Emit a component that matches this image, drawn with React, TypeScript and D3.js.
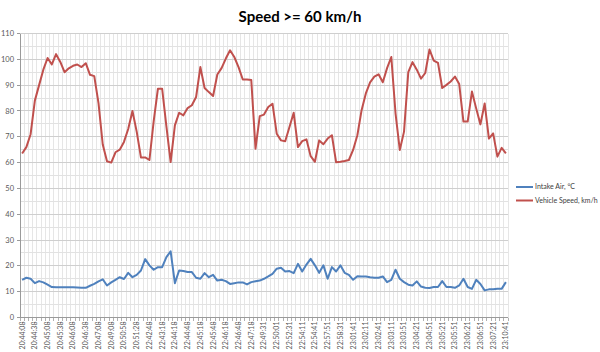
import * as d3 from "d3";

// labels shown under every third sample
const timeLabels = [
  "20:44:08", "20:44:38", "20:45:08", "20:45:38", "20:46:08", "20:46:38", "20:47:08",
  "20:49:08", "20:50:58", "20:51:28", "22:42:48", "22:43:18", "22:44:18", "22:44:48",
  "22:45:18", "22:45:48", "22:46:18", "22:46:48", "22:47:18", "22:49:31", "22:50:01",
  "22:52:31", "22:54:11", "22:54:41", "22:57:51", "22:58:31", "23:01:41", "23:02:11",
  "23:02:41", "23:03:11", "23:03:51", "23:04:21", "23:04:51", "23:05:21", "23:05:51",
  "23:06:21", "23:06:51", "23:07:21", "23:10:41",
];
const labelStep = 3;

const intakeAir = [
  14.6, 15.4, 15.0, 13.3, 14.1, 13.6, 12.7, 11.8, 11.7, 11.7,
  11.7, 11.7, 11.7, 11.6, 11.5, 11.5, 12.3, 13.0, 14.0, 14.8,
  12.4, 13.6, 14.6, 15.6, 14.9, 17.3, 15.6, 16.5, 18.2, 22.6,
  20.2, 18.5, 19.5, 19.5, 23.4, 25.6, 13.3, 18.2, 18.0, 17.6,
  17.6, 15.4, 15.0, 17.2, 15.6, 16.5, 14.3, 14.6, 14.1, 13.0,
  13.3, 13.6, 13.6, 12.8, 13.7, 14.0, 14.3, 15.0, 15.9, 16.9,
  18.9, 19.3, 17.8, 18.0, 17.2, 20.8, 17.8, 20.5, 22.7, 20.2,
  17.3, 20.2, 15.0, 19.5, 17.8, 20.2, 17.3, 16.5, 14.6, 16.0,
  15.9, 15.9, 15.6, 15.4, 15.4, 15.9, 13.7, 14.6, 18.5, 15.0,
  13.7, 12.7, 12.4, 14.0, 12.0, 11.5, 11.4, 11.8, 11.8, 14.1,
  11.8, 11.8, 11.5, 12.4, 15.0, 11.8, 11.1, 14.6, 13.0, 10.5,
  10.9, 10.9, 11.1, 11.1, 13.7,
];

const vehicleSpeed = [
  63.5, 66, 71, 84, 90, 96, 100.5, 98, 102, 99,
  95, 96.5, 97.5, 98, 97, 98.5, 94, 93.5, 83, 67,
  60.5, 60, 64, 65, 68, 73, 80, 72, 62, 62,
  61, 76, 88.6, 88.6, 74, 60.2, 74.4, 79.3, 78.3, 81.1,
  82.2, 85.4, 97, 88.9, 87.3, 85.8, 94.1, 96.6, 100.3, 103.5,
  100.9, 97, 92.2, 92.2, 92, 65.4, 78, 78.6, 81.5, 82.8,
  71.2, 68.6, 68.3, 73.8, 79.3, 66, 68.3, 69, 62.5, 60.3,
  68.6, 67.1, 69.3, 70.6, 60.1, 60.3, 60.6, 61, 64.9, 70.6,
  80.3, 86.8, 91.1, 93.3, 94.2, 91.1, 96.6, 100.9, 79, 64.9,
  72, 95, 98.9, 96, 92.5, 94.7, 103.8, 99.5, 98.6, 88.9,
  90.1, 91.4, 93.3, 90.4, 75.9, 75.9, 87.5, 81, 74.8, 82.9,
  69.3, 71.3, 62.3, 65.7, 63.6,
];

const yMax = 110;
const yTicks = d3.range(0, yMax + 1, 10);
const yGrid = d3.range(0, yMax + 1, 5);

const series = [
  { name: "Intake Air, °C", values: intakeAir, color: "#4f81bd" },
  { name: "Vehicle Speed, km/h", values: vehicleSpeed, color: "#c0504d" },
];

const width = 600;
const height = 352;
const left = 20;
const right = 508;
const top = 33.5;
const bottom = 317.5;
const font = "Lato, 'Liberation Sans', sans-serif";

export default function App() {
  const idx = d3.range(vehicleSpeed.length);
  const x = d3.scaleBand<number>().domain(idx).range([left, right]).padding(0);
  const y = d3.scaleLinear().domain([0, yMax]).range([bottom, top]);
  const cx = (i: number) => (x(i) ?? 0) + x.bandwidth() / 2;
  const line = d3
    .line<number>()
    .x((_, i) => cx(i))
    .y((d) => y(d));

  const bounds = [...idx.map((i) => x(i) ?? 0), right];

  return (
    <svg
      width={width}
      height={height}
      viewBox={`0 0 ${width} ${height}`}
      style={{ position: "absolute", left: 0, top: 0, background: "#fff" }}
      fontFamily={font}
    >
      <text x={300} y={22} textAnchor="middle" fontSize={15} fontWeight="bold" fill="#000">
        Speed &gt;= 60 km/h
      </text>

      {/* grid */}
      <g shapeRendering="crispEdges">
        {bounds.map((b, i) => (
          <line key={"v" + i} x1={b} x2={b} y1={top} y2={bottom} stroke="#e6e6e6" />
        ))}
        {yGrid.map((t) => (
          <line
            key={"h" + t}
            x1={left}
            x2={right}
            y1={y(t)}
            y2={y(t)}
            stroke={t % 10 === 0 ? "#cfcfcf" : "#e2e2e2"}
          />
        ))}
        <line x1={left} x2={left} y1={top} y2={bottom} stroke="#9a9a9a" />
        <line x1={left} x2={right} y1={bottom} y2={bottom} stroke="#9a9a9a" />
        {bounds.map((b, i) => (
          <line key={"t" + i} x1={b} x2={b} y1={bottom} y2={bottom + 3} stroke="#b0b0b0" />
        ))}
        {yTicks.map((t) => (
          <line key={"yt" + t} x1={left - 3} x2={left} y1={y(t)} y2={y(t)} stroke="#9a9a9a" />
        ))}
      </g>

      {/* y labels */}
      {yTicks.map((t) => (
        <text key={t} x={left - 6} y={y(t)} dy="0.35em" textAnchor="end" fontSize={7.5} fill="#595959">
          {t}
        </text>
      ))}

      {/* x labels */}
      {timeLabels.map((lab, k) => (
        <text
          key={lab}
          transform={`translate(${cx(k * labelStep)},${bottom + 4}) rotate(-90)`}
          textAnchor="end"
          dy="0.35em"
          fontSize={7}
          fill="#595959"
        >
          {lab}
        </text>
      ))}

      {series.map((s) => (
        <path
          key={s.name}
          d={line(s.values) ?? ""}
          fill="none"
          stroke={s.color}
          strokeWidth={2}
          strokeLinejoin="round"
        />
      ))}

      {/* legend */}
      {series.map((s, k) => (
        <g key={s.name} transform={`translate(516,${187 + k * 13.5})`}>
          <line x1={0} x2={17} y1={0} y2={0} stroke={s.color} strokeWidth={2} />
          <text x={19} y={0} dy="0.35em" fontSize={7} fill="#404040">
            {s.name}
          </text>
        </g>
      ))}
    </svg>
  );
}
